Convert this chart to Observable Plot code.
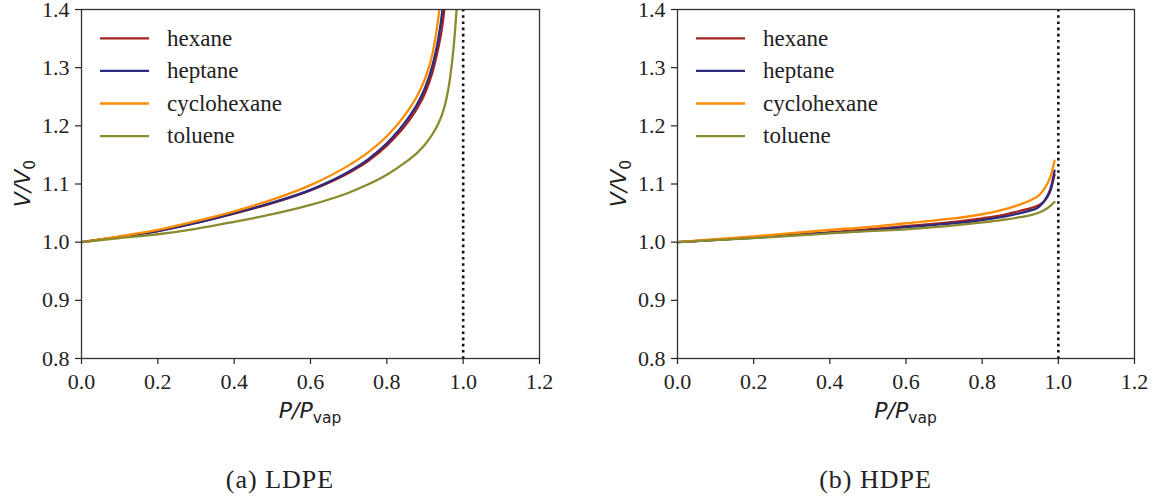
<!DOCTYPE html>
<html><head><meta charset="utf-8">
<script src="https://cdn.jsdelivr.net/npm/d3@7"></script>
<script src="https://cdn.jsdelivr.net/npm/@observablehq/plot@0.6"></script>
<style>
body{margin:0;background:#fff;}
#wrap{position:relative;width:1156px;height:504px;overflow:hidden;background:#fff;}
.panel{position:absolute;top:0;}
.cap{position:absolute;top:466px;font-family:"Liberation Serif",serif;font-size:26px;line-height:28px;color:#222;transform:translateX(-50%);white-space:nowrap;letter-spacing:1px;}
</style></head><body>
<div id="wrap"></div>
<script>
// ---- data ----
const series = ["hexane", "heptane", "cyclohexane", "toluene"];
const seriesColors = ["#a3221f", "#2b2a7e", "#ff8c00", "#8a8a2e"];
const xTicks = [0.0, 0.2, 0.4, 0.6, 0.8, 1.0, 1.2];
const yTicks = [0.8, 0.9, 1.0, 1.1, 1.2, 1.3, 1.4];
const captions = ["(a) LDPE", "(b) HDPE"];

// (a) LDPE
const ldpeP = [0, 0.1, 0.2, 0.3, 0.4, 0.5, 0.6, 0.7, 0.75, 0.8, 0.85, 0.88, 0.9, 0.92, 0.935, 0.945, 0.955, 0.965, 0.975, 0.985];
const ldpeHexane      = [1.000, 1.009, 1.019, 1.033, 1.049, 1.067, 1.089, 1.119, 1.139, 1.166, 1.202, 1.231, 1.256, 1.293, 1.334, 1.370, 1.425, null, null, null];
const ldpeHeptane     = [1.000, 1.009, 1.019, 1.033, 1.050, 1.068, 1.090, 1.121, 1.142, 1.170, 1.208, 1.238, 1.265, 1.305, 1.350, 1.395, 1.460, null, null, null];
const ldpeCyclohexane = [1.000, 1.010, 1.021, 1.036, 1.053, 1.073, 1.098, 1.132, 1.154, 1.182, 1.221, 1.252, 1.281, 1.325, 1.385, 1.450, null, null, null, null];
const ldpeToluene     = [1.000, 1.007, 1.0136, 1.023, 1.035, 1.048, 1.064, 1.085, 1.099, 1.116, 1.138, 1.154, 1.168, 1.186, 1.204, 1.220, 1.243, 1.279, 1.335, 1.420];

// (b) HDPE
const hdpeP = [0, 0.1, 0.2, 0.3, 0.4, 0.5, 0.6, 0.7, 0.8, 0.85, 0.9, 0.93, 0.95, 0.97, 0.98, 0.99];
const hdpeHexane      = [1.000, 1.004, 1.008, 1.0125, 1.017, 1.022, 1.0275, 1.033, 1.041, 1.046, 1.054, 1.059, 1.064, 1.076, 1.090, 1.116];
const hdpeHeptane     = [1.000, 1.004, 1.0075, 1.012, 1.016, 1.020, 1.026, 1.031, 1.038, 1.043, 1.050, 1.055, 1.061, 1.078, 1.093, 1.123];
const hdpeCyclohexane = [1.000, 1.005, 1.010, 1.0155, 1.021, 1.026, 1.0325, 1.039, 1.048, 1.055, 1.065, 1.073, 1.081, 1.099, 1.114, 1.140];
const hdpeToluene     = [1.000, 1.0035, 1.007, 1.011, 1.015, 1.019, 1.022, 1.027, 1.034, 1.038, 1.043, 1.047, 1.051, 1.058, 1.063, 1.069];

const saturation = [1.0];

function toRows(xs, lists) {
  const rows = [];
  lists.forEach((ys, i) => xs.forEach((x, j) => rows.push({p: x, v: ys[j], s: series[i]})));
  return rows;
}

const serif = "'Liberation Serif', 'Times New Roman', serif";
const sans = "'DejaVu Sans', sans-serif";

function makePanel(rows, left, width, mr, caption) {
  const ml = 81, mt = 9, h = 420, mb = 62;
  const svg = Plot.plot({
    width, height: h,
    marginLeft: ml, marginRight: mr, marginTop: mt, marginBottom: mb,
    style: {fontFamily: serif, fontSize: "22px", color: "#222", background: "transparent", overflow: "visible"},
    x: {domain: [0, 1.2]},
    y: {domain: [0.8, 1.4]},
    color: {domain: series, range: seriesColors},
    marks: [
      Plot.lineY(rows, {x: "p", y: "v", z: "s", stroke: "s", strokeWidth: 2.3, clip: true, curve: "monotone-x"}),
      Plot.ruleX(saturation, {stroke: "#111", strokeWidth: 2.6, strokeDasharray: "2.6,3.6"}),
      Plot.frame({stroke: "#333", strokeWidth: 1.3}),
      Plot.axisX({ticks: xTicks, tickSize: 6, tickPadding: 9, tickFormat: d3.format(".1f"), label: null, strokeWidth: 1.2, fontFamily: serif, fontSize: 22}),
      Plot.axisY({ticks: yTicks, tickSize: 6, tickPadding: 6, tickFormat: d3.format(".1f"), label: null, strokeWidth: 1.2, fontFamily: serif, fontSize: 22})
    ]
  });
  const s = d3.select(svg);
  s.selectAll("text").style("font-family", serif).style("font-size", "22px").style("font-variant", "normal");
  const plotW = width - ml - mr;
  // axis labels
  const yl = s.append("text")
    .attr("transform", `translate(30,${mt + (358 - mt) / 2}) rotate(-90)`)
    .attr("text-anchor", "middle")
    .style("font-family", sans).attr("font-size", 22).attr("fill", "#222");
  yl.append("tspan").attr("font-style", "italic").text("V/V");
  yl.append("tspan").attr("font-size", 15.5).attr("dy", 5).text("0");
  const xl = s.append("text")
    .attr("x", ml + plotW / 2).attr("y", 418)
    .attr("text-anchor", "middle")
    .style("font-family", sans).attr("font-size", 22).attr("fill", "#222");
  xl.append("tspan").attr("font-style", "italic").text("P/P");
  xl.append("tspan").attr("font-size", 15.5).attr("dy", 5).text("vap");
  // legend
  const lg = s.append("g").attr("text-anchor", "start");
  series.forEach((name, i) => {
    const yy = 38.3 + i * 32.6;
    lg.append("line").attr("x1", ml + 19).attr("x2", ml + 68).attr("y1", yy).attr("y2", yy)
      .attr("stroke", seriesColors[i]).attr("stroke-width", 2.3);
    lg.append("text").attr("x", ml + 86).attr("y", yy).attr("dy", "0.32em")
      .attr("text-anchor", "start")
      .style("font-family", serif).attr("font-size", 23).attr("fill", "#222")
      .text(name);
  });
  const div = document.createElement("div");
  div.className = "panel";
  div.style.left = left + "px";
  div.appendChild(svg);
  document.getElementById("wrap").appendChild(div);
  const cap = document.createElement("div");
  cap.className = "cap";
  cap.style.left = (left + ml + plotW / 2 - 30) + "px";
  cap.textContent = caption;
  document.getElementById("wrap").appendChild(cap);
}

makePanel(toRows(ldpeP, [ldpeHexane, ldpeHeptane, ldpeCyclohexane, ldpeToluene]), 0, 578, 39, captions[0]);
makePanel(toRows(hdpeP, [hdpeHexane, hdpeHeptane, hdpeCyclohexane, hdpeToluene]), 596, 560, 22, captions[1]);
</script>
</body></html>
